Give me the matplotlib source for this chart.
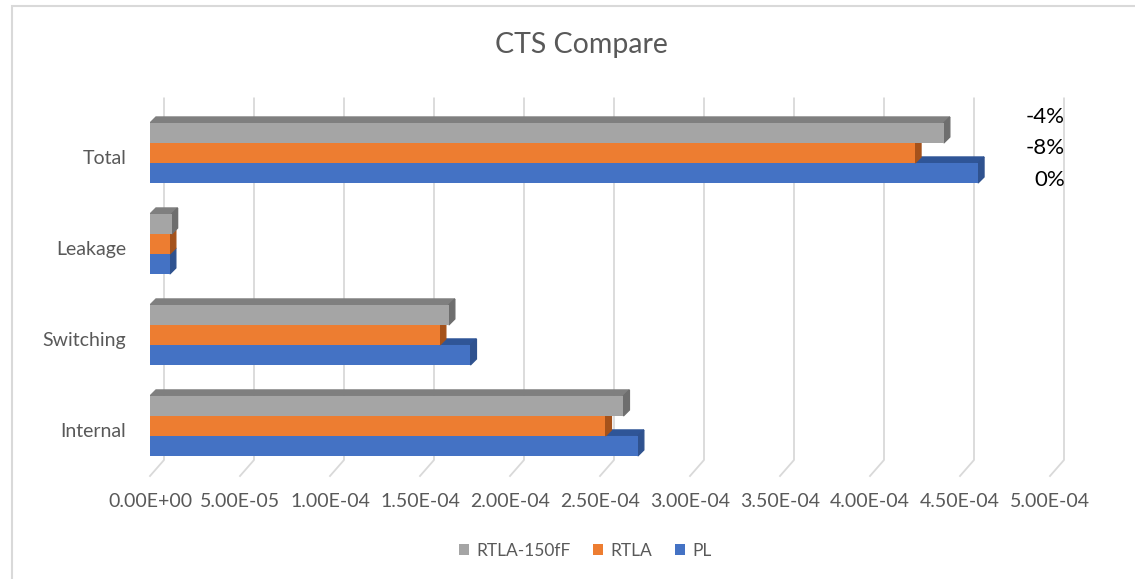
import numpy as np
import matplotlib.pyplot as plt
import matplotlib.transforms as mtransforms
from matplotlib.patches import Polygon, Rectangle

categories = ['Internal', 'Switching', 'Leakage', 'Total']
series = ['PL', 'RTLA', 'RTLA-150fF']
pl = [2.71e-4, 1.78e-4, 1.1e-5, 4.60e-4]
rtla = [2.53e-4, 1.61e-4, 1.1e-5, 4.25e-4]
rtla150 = [2.63e-4, 1.66e-4, 1.2e-5, 4.41e-4]
pct_labels = ['-4%', '-8%', '0%']
xticks = np.arange(0, 5.01e-4, 5e-5)

colors = ['#4472C4', '#ED7D31', '#A5A5A5']
tops = ['#2F5597', '#B4581C', '#7F7F7F']
sides = ['#2F528F', '#A5521B', '#6E6E6E']

W, H = 1135, 579
fig = plt.figure(figsize=(W / 100, H / 100), dpi=100)
plt.rcParams['font.family'] = ['Lato', 'DejaVu Sans']

# chart border
fig.patches.append(Rectangle((12 / W, -0.01), 1.1, 1 - 6 / H + 0.01,
                             transform=fig.transFigure, fill=False,
                             edgecolor='#D9D9D9', lw=1.5))

ax = fig.add_axes([150 / W, (H - 476) / H, 900 / W, 377.6 / H])
ax.set_xlim(0, 5e-4)
ax.set_ylim(-0.55, 3.6)
for s in ax.spines.values():
    s.set_visible(False)

# 3d-ish gridlines: back wall + slanted floor
gdx = 14 / 90 * 5e-5
gdy = 16 / 91
for v in xticks:
    ax.plot([v, v + gdx, v + gdx], [-0.55, -0.55 + gdy, 3.6],
            color='#D9D9D9', lw=1.3, clip_on=False, zorder=0)

bh = 20 / 91
dx = 6 / 90 * 5e-5
dy = 6 / 91
y = np.arange(len(categories))
vals = [pl, rtla, rtla150]
for i, (name, v) in enumerate(zip(series, vals)):
    yb = y - 1.5 * bh + i * bh
    ax.barh(yb, v, height=bh, align='edge', color=colors[i], label=name,
            zorder=2 + i * 2)
    for yy, vv in zip(yb, v):
        top = Polygon([[0, yy + bh], [dx, yy + bh + dy], [vv + dx, yy + bh + dy],
                       [vv, yy + bh]], closed=True, color=tops[i], zorder=1 + i * 2)
        side = Polygon([[vv, yy], [vv + dx, yy + dy], [vv + dx, yy + bh + dy],
                        [vv, yy + bh]], closed=True, color=sides[i], zorder=1 + i * 2)
        ax.add_patch(top)
        ax.add_patch(side)

ax.set_yticks(y)
ax.set_yticklabels(categories, fontsize=14, color='#595959')
ax.set_xticks(xticks)
ax.set_xticklabels(['%.2E' % t for t in xticks], fontsize=14, color='#595959')
ax.tick_params(axis='y', length=0, pad=17)
ax.tick_params(axis='x', length=0, pad=12)
shift = mtransforms.ScaledTranslation(0, -4 / 100, fig.dpi_scale_trans)
for t in ax.get_yticklabels():
    t.set_transform(t.get_transform() + shift)

fig.text(581 / W, 1 - 45 / H, 'CTS Compare', ha='center', va='center',
         fontsize=20.5, color='#595959')

for lbl, py in zip(pct_labels, [117, 148, 180]):
    fig.text(1065 / W, 1 - py / H, lbl, ha='right', va='center',
             fontsize=16, color='black')

h, l = ax.get_legend_handles_labels()
fig.legend(h[::-1], l[::-1], loc='center', bbox_to_anchor=(585 / W, 1 - 551 / H),
           ncol=3, frameon=False, fontsize=12.5, handlelength=0.6,
           handleheight=0.6, handletextpad=0.4, columnspacing=1.3,
           labelcolor='#595959')

fig.savefig('out.png', dpi=100)
